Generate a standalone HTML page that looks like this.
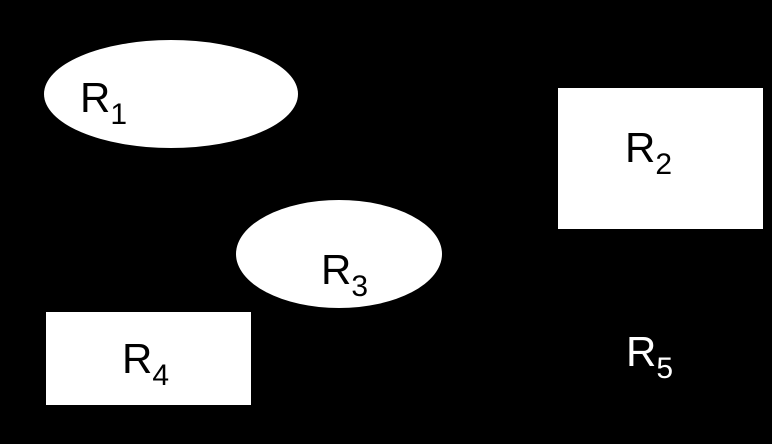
<!DOCTYPE html>
<html>
<head>
<meta charset="utf-8">
<style>
html,body{margin:0;padding:0;background:#000;}
svg{display:block;}
text{font-family:"Liberation Sans",Arial,sans-serif;}
</style>
</head>
<body>
<svg width="772" height="444" viewBox="0 0 772 444">
  <rect x="0" y="0" width="772" height="444" fill="#000"/>
  <g>
    <ellipse cx="171" cy="94" rx="127" ry="54" fill="#fff"/>
    <text x="80" y="112" font-size="42" fill="#000">R<tspan font-size="30" dy="12">1</tspan></text>
  </g>
  <g>
    <rect x="558" y="88" width="205" height="141" fill="#fff"/>
    <text x="625" y="162" font-size="42" fill="#000">R<tspan font-size="30" dy="12">2</tspan></text>
  </g>
  <g>
    <ellipse cx="339" cy="254" rx="103" ry="54" fill="#fff"/>
    <text x="321" y="284" font-size="42" fill="#000">R<tspan font-size="30" dy="12">3</tspan></text>
  </g>
  <g>
    <rect x="46" y="312" width="205" height="93" fill="#fff"/>
    <text x="122" y="373" font-size="42" fill="#000">R<tspan font-size="30" dy="12">4</tspan></text>
  </g>
  <g>
    <text x="626" y="366" font-size="42" fill="#fff">R<tspan font-size="30" dy="12">5</tspan></text>
  </g>
</svg>
</body>
</html>
